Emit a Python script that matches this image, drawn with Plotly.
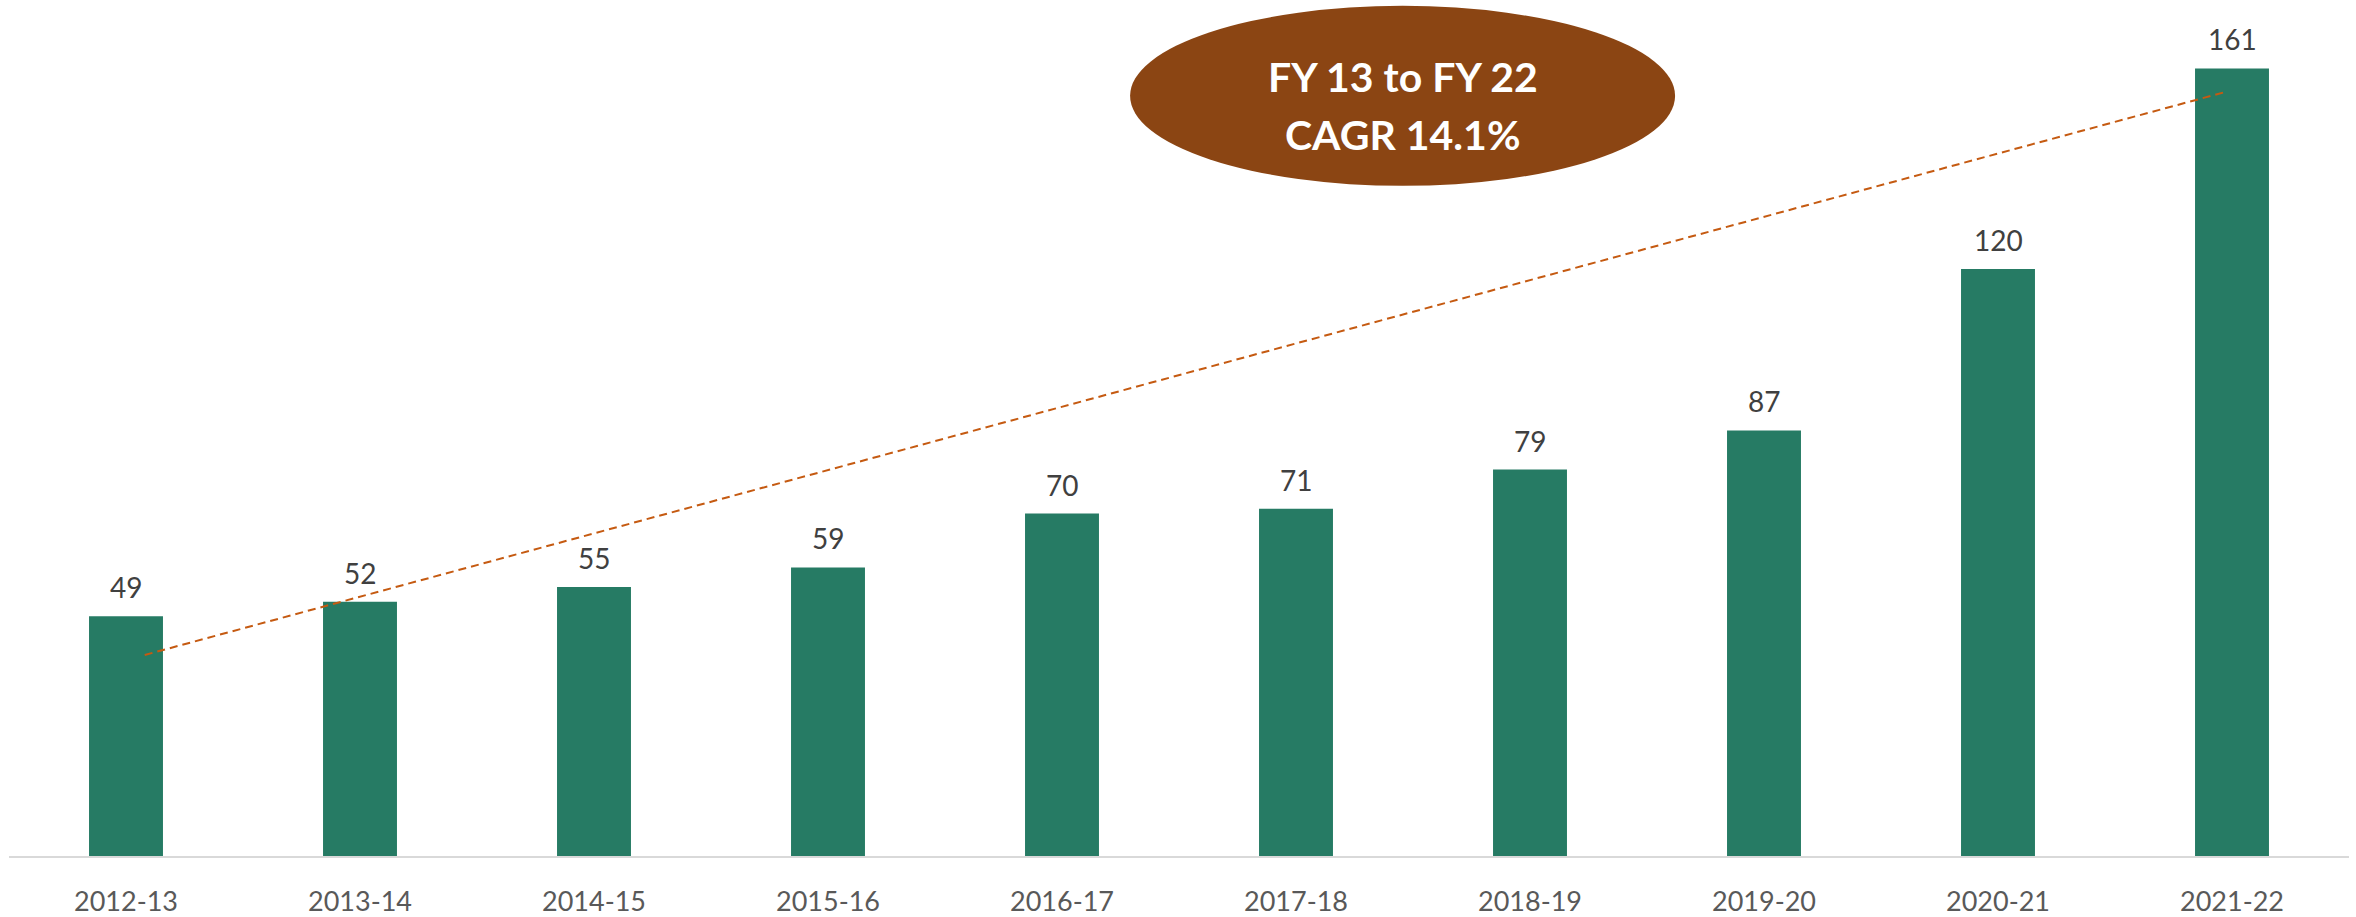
import plotly.graph_objects as go

categories = ["2012-13", "2013-14", "2014-15", "2015-16", "2016-17",
              "2017-18", "2018-19", "2019-20", "2020-21", "2021-22"]
values = [49, 52, 55, 59, 70, 71, 79, 87, 120, 161]
trend_x = [0.08, 8.98]
trend_y = [41.1, 156.3]
badge_lines = ["FY 13 to FY 22", "CAGR 14.1%"]

xpos = list(range(len(categories)))

fig = go.Figure()
fig.add_trace(go.Bar(
    x=xpos, y=values, width=0.316,
    marker=dict(color="#267B64", line=dict(color="#267B64", width=0)),
    hoverinfo="skip", showlegend=False,
))
fig.add_trace(go.Scatter(
    x=trend_x, y=trend_y, mode="lines",
    line=dict(color="#C55A11", width=2, dash="8px,5px"),
    hoverinfo="skip", showlegend=False,
))

for xi, v in zip(xpos, values):
    fig.add_annotation(x=xi, y=v, text=str(v), showarrow=False,
                       yanchor="middle", yshift=29,
                       font=dict(family="Lato", size=28, color="#404040"))

fig.add_shape(type="circle", xref="x", yref="y",
              x0=4.291, x1=6.62, y0=137.0, y1=173.8,
              fillcolor="#8B4513", line=dict(color="#8B4513", width=0),
              layer="above")
fig.add_annotation(x=5.457, y=159.4, text=f"<b>{badge_lines[0]}</b>", showarrow=False,
                   font=dict(family="Lato", size=41, color="white"))
fig.add_annotation(x=5.457, y=147.6, text=f"<b>{badge_lines[1]}</b>", showarrow=False,
                   font=dict(family="Lato", size=41, color="white"))

fig.update_layout(
    width=2356, height=917,
    margin=dict(l=9, r=7, t=0, b=56),
    plot_bgcolor="white", paper_bgcolor="white",
    xaxis=dict(range=[-0.5, 9.5], tickmode="array", tickvals=xpos, ticktext=categories,
               showgrid=False, zeroline=False, showline=True, linecolor="#D9D9D9",
               linewidth=2, ticks="", ticklabelstandoff=21,
               tickfont=dict(family="Lato", size=27, color="#595959")),
    yaxis=dict(range=[0, 175], showgrid=False, zeroline=False, showticklabels=False,
               showline=False),
)

fig.write_html("out.html", config={"displayModeBar": False},
               post_script="document.body.style.margin='0';document.body.style.overflow='hidden';")
